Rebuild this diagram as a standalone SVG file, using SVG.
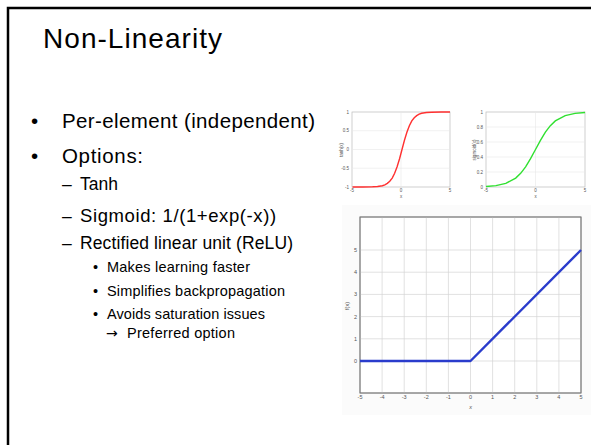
<svg xmlns="http://www.w3.org/2000/svg" width="591" height="445" viewBox="0 0 591 445">
<style>
.t{font-family:"Liberation Sans",Arial,sans-serif;fill:#000}
.h{font-size:28px}
.l1{font-size:20.5px}
.l2{font-size:17.5px}
.l3{font-size:14.5px}
.arr{font-family:"DejaVu Sans",sans-serif;font-size:14px;fill:#000}
.tk{font-family:"Liberation Sans",Arial,sans-serif;font-size:4.5px;fill:#555}
.tkb{font-family:"Liberation Sans",Arial,sans-serif;font-size:5.5px;fill:#555}
.grid{stroke:#d4d4d4;stroke-width:0.7;fill:none}
.sgrid{stroke:#e8e8e8;stroke-width:0.6;fill:none}
.box{stroke:#777;stroke-width:0.8;fill:#fff}
.sbox{stroke:#bbb;stroke-width:0.7;fill:#fff}
</style>
<rect x="0" y="0" width="591" height="445" fill="#fff"/>
<rect x="8" y="8" width="600" height="460" fill="none" stroke="#000" stroke-width="2.5"/>

<g id="title">
<text class="t h" x="43" y="48" textLength="179">Non-Linearity</text>
</g>

<g id="bullets">
<text class="t l1" x="31" y="128">•</text>
<text class="t l1" x="62" y="128" textLength="253">Per-element (independent)</text>
<text class="t l1" x="31" y="163">•</text>
<text class="t l1" x="62" y="163" textLength="81">Options:</text>
<text class="t l2" x="62" y="190">–</text>
<text class="t l2" x="80" y="190" textLength="38">Tanh</text>
<text class="t l2" x="62" y="222">–</text>
<text class="t" font-size="18.5" letter-spacing="0.6" x="80" y="222">Sigmoid: 1/(1+exp(-x))</text>
<text class="t l2" x="62" y="249">–</text>
<text class="t l2" x="80" y="249" textLength="213">Rectified linear unit (ReLU)</text>
<text class="t l3" x="93" y="272">•</text>
<text class="t l3" x="107" y="272" textLength="143">Makes learning faster</text>
<text class="t l3" x="93" y="296">•</text>
<text class="t l3" x="107" y="296" textLength="178">Simplifies backpropagation</text>
<text class="t l3" x="93" y="319">•</text>
<text class="t l3" x="107" y="319" textLength="158">Avoids saturation issues</text>
<text class="arr" x="106" y="338">→</text>
<text class="t l3" x="127" y="338" textLength="108">Preferred option</text>
</g>

<g id="tanh-plot">
<rect class="sbox" x="352" y="112" width="98" height="75"/>
<path class="sgrid" d="M401 112V187M352 130.75H450M352 149.5H450M352 168.25H450"/>
<path fill="none" stroke="#ff3030" stroke-width="1.4" d="M352.5 187 L362.8 187 L372.6 186.8 L377.5 186.5 L382.4 185.7 L384.85 184.8 L387.3 183.4 L389.75 181.3 L392.2 178.1 L394.65 173.3 L397.1 166.8 L399.55 158.7 L402 149.5 L404.45 140.3 L406.9 132.2 L409.35 125.7 L411.8 120.9 L414.25 117.7 L416.7 115.6 L419.15 114.2 L421.6 113.3 L426.5 112.5 L431.4 112.2 L441.2 112 L450 112"/>
<text class="tk" x="349" y="113.5" text-anchor="end">1</text>
<text class="tk" x="349" y="132.3" text-anchor="end">0.5</text>
<text class="tk" x="349" y="151" text-anchor="end">0</text>
<text class="tk" x="349" y="169.8" text-anchor="end">-0.5</text>
<text class="tk" x="349" y="188.5" text-anchor="end">-1</text>
<text class="tk" x="352" y="192" text-anchor="middle">-5</text>
<text class="tk" x="401" y="192" text-anchor="middle">0</text>
<text class="tk" x="450" y="192" text-anchor="middle">5</text>
<text class="tk" x="401" y="198" text-anchor="middle">x</text>
<text class="tk" transform="translate(343 150) rotate(-90)" text-anchor="middle">tanh(x)</text>
</g>

<g id="sigmoid-plot">
<rect class="sbox" x="486" y="112" width="99" height="75"/>
<path class="sgrid" d="M535.5 112V187M486 127H585M486 142H585M486 157H585M486 172H585"/>
<path fill="none" stroke="#30e030" stroke-width="1.4" d="M486 186.5 L495.9 185.65 L505.8 183.4 L515.7 178.1 L520.65 173.3 L525.6 166.8 L530.55 158.7 L535.5 149.5 L540.45 140.3 L545.4 132.2 L550.35 125.7 L555.3 120.9 L565.2 115.6 L575.1 113.35 L585 112.5"/>
<text class="tk" x="483" y="113.5" text-anchor="end">1</text>
<text class="tk" x="483" y="128.5" text-anchor="end">0.8</text>
<text class="tk" x="483" y="143.5" text-anchor="end">0.6</text>
<text class="tk" x="483" y="158.5" text-anchor="end">0.4</text>
<text class="tk" x="483" y="173.5" text-anchor="end">0.2</text>
<text class="tk" x="483" y="188.5" text-anchor="end">0</text>
<text class="tk" x="486" y="192" text-anchor="middle">-5</text>
<text class="tk" x="535.5" y="192" text-anchor="middle">0</text>
<text class="tk" x="585" y="192" text-anchor="middle">5</text>
<text class="tk" x="535.5" y="198" text-anchor="middle">x</text>
<text class="tk" transform="translate(476 150) rotate(-90)" text-anchor="middle">sigmoid(x)</text>
</g>

<g id="relu-plot">
<rect x="342" y="205" width="249" height="210" fill="#fbfbfb"/>
<rect class="box" x="360" y="217" width="221" height="176"/>
<path class="grid" d="M382.1 217V393M404.2 217V393M426.3 217V393M448.4 217V393M470.5 217V393M492.6 217V393M514.7 217V393M536.8 217V393M558.9 217V393M360 361H581M360 338.8H581M360 316.6H581M360 294.4H581M360 272.2H581M360 250H581"/>
<rect x="360" y="217" width="221" height="176" fill="none" stroke="#777" stroke-width="0.8"/>
<path fill="none" stroke="#2a3ccc" stroke-width="2.4" stroke-linejoin="round" d="M360 361 L470.5 361 L581 250"/>
<text class="tkb" x="357" y="252" text-anchor="end">5</text>
<text class="tkb" x="357" y="274.2" text-anchor="end">4</text>
<text class="tkb" x="357" y="296.4" text-anchor="end">3</text>
<text class="tkb" x="357" y="318.6" text-anchor="end">2</text>
<text class="tkb" x="357" y="340.8" text-anchor="end">1</text>
<text class="tkb" x="357" y="363" text-anchor="end">0</text>
<text class="tkb" x="360" y="399" text-anchor="middle">-5</text>
<text class="tkb" x="382.1" y="399" text-anchor="middle">-4</text>
<text class="tkb" x="404.2" y="399" text-anchor="middle">-3</text>
<text class="tkb" x="426.3" y="399" text-anchor="middle">-2</text>
<text class="tkb" x="448.4" y="399" text-anchor="middle">-1</text>
<text class="tkb" x="470.5" y="399" text-anchor="middle">0</text>
<text class="tkb" x="492.6" y="399" text-anchor="middle">1</text>
<text class="tkb" x="514.7" y="399" text-anchor="middle">2</text>
<text class="tkb" x="536.8" y="399" text-anchor="middle">3</text>
<text class="tkb" x="558.9" y="399" text-anchor="middle">4</text>
<text class="tkb" x="581" y="399" text-anchor="middle">5</text>
<text class="tkb" x="470.5" y="409" text-anchor="middle" font-style="italic">x</text>
<text class="tkb" transform="translate(349 306) rotate(-90)" text-anchor="middle">f(x)</text>
</g>
</svg>
